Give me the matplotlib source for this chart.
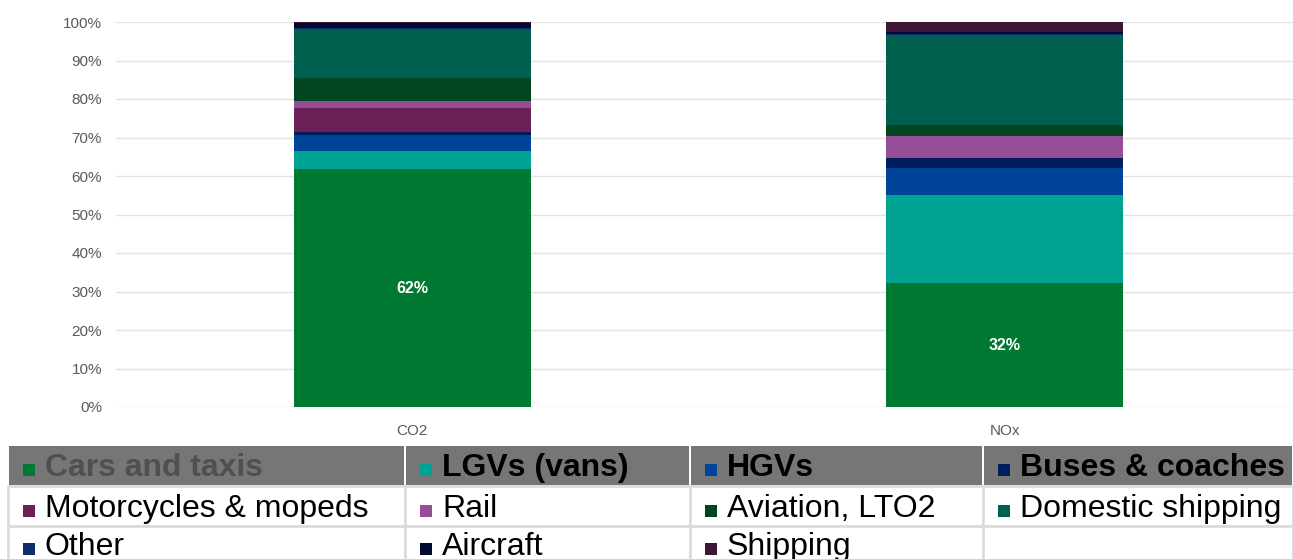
import matplotlib.pyplot as plt
from matplotlib.patches import Rectangle

pollutants = ['CO2', 'NOx']
modes = ['Cars and taxis', 'LGVs (vans)', 'HGVs', 'Buses & coaches',
         'Motorcycles & mopeds', 'Rail', 'Aviation, LTO2', 'Domestic shipping',
         'Other', 'Aircraft', 'Shipping']
# share of each pollutant (%) by mode
co2 = [61.7, 4.8, 4.1, 0.9, 6.1, 2.0, 5.8, 12.7, 0.4, 1.3, 0.2]
nox = [32.2, 22.9, 6.9, 2.6, 0.1, 5.8, 2.8, 23.4, 0.3, 0.3, 2.7]
bar_labels = ['62%', '32%']
yticks = [0, 10, 20, 30, 40, 50, 60, 70, 80, 90, 100]

colors = ['#007a33', '#00a392', '#00449a', '#001e5c', '#6b2157', '#964d98',
          '#00451f', '#00604f', '#0e2d6a', '#000b32', '#3d1736']

plt.rcParams['font.family'] = ['Liberation Sans', 'DejaVu Sans']

W, H = 1293, 559
fig = plt.figure(figsize=(W / 100, H / 100), dpi=100)
ax = fig.add_axes([116 / W, 152 / H, 1177 / W, 385 / H])

x = range(len(pollutants))
bottom = [0, 0]
cars = None
for i, name in enumerate(modes):
    vals = [co2[i], nox[i]]
    b = ax.bar(x, vals, width=0.4, bottom=bottom, color=colors[i], zorder=3)
    if i == 0:
        cars = b
    bottom = [bottom[0] + vals[0], bottom[1] + vals[1]]

ax.bar_label(cars, labels=bar_labels, label_type='center', color='white',
             fontweight='bold', fontsize=11.5)

ax.set_xlim(-0.5, -0.5 + 1177 / 592.5)
ax.set_ylim(0, 100)
ax.set_yticks(yticks)
ax.set_yticklabels([f'{t}%' for t in yticks])
ax.set_xticks(list(x))
ax.set_xticklabels(pollutants)
ax.tick_params(length=0, labelsize=11, labelcolor='#595959')
ax.tick_params(axis='y', pad=10)
ax.tick_params(axis='x', pad=12)
ax.grid(axis='y', color='#e3e3e3', lw=1, zorder=0)
for s in ax.spines.values():
    s.set_visible(False)

# legend drawn as a table under the chart
tab = fig.add_axes([0, 0, 1, 1])
tab.set_xlim(0, W)
tab.set_ylim(H, 0)
tab.axis('off')
tab.patch.set_alpha(0)

col_edges = [8, 405, 690, 983, 1293]
row_edges = [446, 486, 526, 566]
baselines = [476, 517, 555]

for r in range(3):
    for c in range(4):
        x0, x1 = col_edges[c], col_edges[c + 1]
        y0, y1 = row_edges[r], row_edges[r + 1]
        if r == 0:
            tab.add_patch(Rectangle((x0 + 1, y0), x1 - x0 - 2, y1 - y0 - 1,
                                    fc='#767676', ec='none'))
        else:
            tab.add_patch(Rectangle((x0, y0), x1 - x0, y1 - y0,
                                    fc='white', ec='#dcdcdc', lw=2))

for idx, name in enumerate(modes):
    r, c = divmod(idx, 4)
    x0 = col_edges[c]
    base = baselines[r]
    tab.add_patch(Rectangle((x0 + 15, base - 12), 12, 12, fc=colors[idx], ec='none'))
    tab.text(x0 + 37, base, name, va='baseline', ha='left', fontsize=23,
             fontweight='bold' if r == 0 else 'normal',
             color='#505050' if idx == 0 else 'black')

fig.savefig('out.png', dpi=100)
